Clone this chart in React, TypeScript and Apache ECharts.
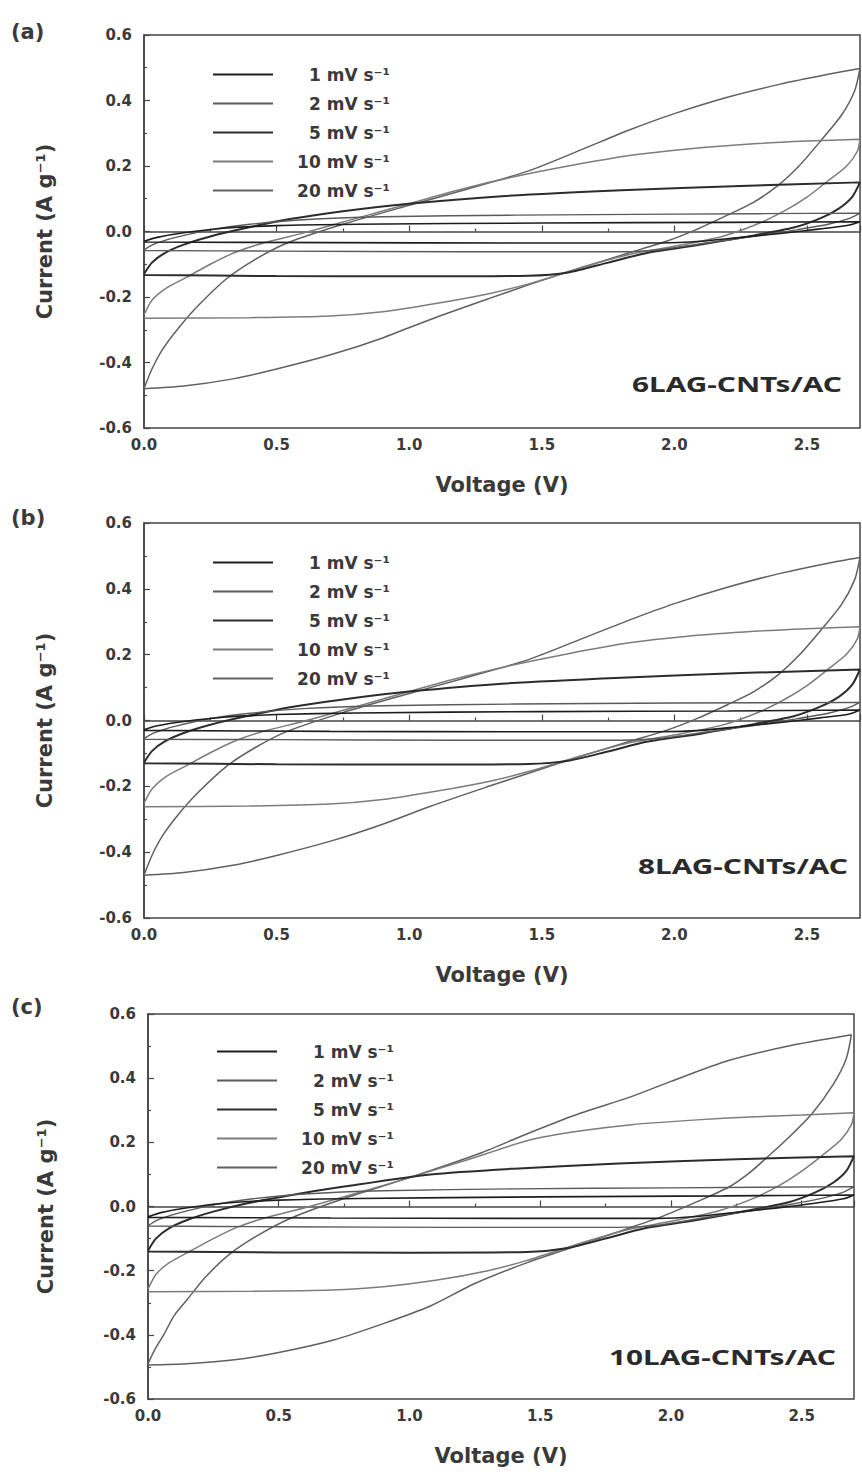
import React, { useEffect, useRef } from 'react';
import * as echarts from 'echarts';

const rateNames = ['1 mV s⁻¹', '2 mV s⁻¹', '5 mV s⁻¹', '10 mV s⁻¹', '20 mV s⁻¹'];
const rateColors = ['#1e1e1e', '#5a5a5a', '#2c2c2c', '#7c7c7c', '#606060'];
const rateWidths = [1.6, 1.4, 2, 1.5, 1.5];
const panelLabels = ['(a)', '(b)', '(c)'];
const sampleNames = ['6LAG-CNTs/AC', '8LAG-CNTs/AC', '10LAG-CNTs/AC'];
const yTicks = [-0.6, 0.6, 0.2];
const xTicks = [0, 2.7, 0.5];

// Panel (a): 6LAG-CNTs/AC  [voltage (V), current (A/g)]
const a1 = [[0,-0.03],[0.05,-0.018],[0.15,-0.004],[0.3,0.01],[0.5,0.018],[0.8,0.022],[1.5,0.026],[2.2,0.028],[2.7,0.03],[2.66,0.02],[2.55,0.008],[2.4,-0.006],[2.25,-0.018],[2.1,-0.03],[1.95,-0.035],[1.4,-0.035],[0.7,-0.034],[0,-0.032]];
const a2 = [[0,-0.056],[0.04,-0.038],[0.12,-0.018],[0.25,0.005],[0.4,0.022],[0.6,0.036],[0.9,0.045],[1.4,0.05],[2.0,0.053],[2.7,0.056],[2.66,0.04],[2.58,0.022],[2.46,0.005],[2.3,-0.015],[2.12,-0.035],[1.95,-0.055],[1.8,-0.062],[1.2,-0.062],[0.5,-0.06],[0,-0.058]];
const a5 = [[0,-0.13],[0.03,-0.095],[0.08,-0.065],[0.15,-0.04],[0.25,-0.015],[0.38,0.01],[0.55,0.038],[0.75,0.062],[1.0,0.085],[1.35,0.108],[1.8,0.126],[2.25,0.139],[2.7,0.15],[2.67,0.105],[2.62,0.07],[2.55,0.04],[2.45,0.012],[2.3,-0.012],[2.1,-0.04],[1.9,-0.065],[1.75,-0.095],[1.6,-0.125],[1.45,-0.135],[1.0,-0.137],[0.5,-0.136],[0,-0.133]];
const a10 = [[0,-0.255],[0.03,-0.21],[0.08,-0.175],[0.16,-0.14],[0.25,-0.1],[0.34,-0.065],[0.45,-0.035],[0.6,-0.005],[0.8,0.04],[1.0,0.085],[1.2,0.13],[1.4,0.168],[1.6,0.2],[1.83,0.232],[2.05,0.252],[2.3,0.268],[2.5,0.276],[2.7,0.282],[2.69,0.245],[2.65,0.2],[2.58,0.155],[2.5,0.105],[2.42,0.065],[2.32,0.025],[2.18,-0.015],[2.0,-0.045],[1.83,-0.07],[1.65,-0.11],[1.45,-0.16],[1.3,-0.19],[1.1,-0.22],[0.9,-0.245],[0.7,-0.258],[0.4,-0.263],[0,-0.265]];
const a20 = [[0,-0.48],[0.03,-0.42],[0.07,-0.36],[0.125,-0.3],[0.2,-0.23],[0.31,-0.145],[0.42,-0.085],[0.54,-0.035],[0.75,0.022],[1.0,0.08],[1.2,0.125],[1.45,0.185],[1.65,0.25],[1.83,0.31],[2.0,0.36],[2.2,0.41],[2.4,0.45],[2.58,0.48],[2.7,0.498],[2.68,0.43],[2.63,0.355],[2.55,0.275],[2.47,0.2],[2.39,0.14],[2.3,0.09],[2.2,0.05],[2.08,0.005],[1.97,-0.03],[1.83,-0.065],[1.65,-0.11],[1.45,-0.163],[1.3,-0.205],[1.075,-0.27],[0.9,-0.325],[0.71,-0.375],[0.5,-0.42],[0.335,-0.45],[0.15,-0.472],[0,-0.48]];

// Panel (b): 8LAG-CNTs/AC
const b1 = [[0,-0.028],[0.05,-0.016],[0.15,-0.003],[0.3,0.01],[0.5,0.018],[0.8,0.023],[1.5,0.027],[2.2,0.029],[2.7,0.032],[2.66,0.02],[2.55,0.008],[2.4,-0.006],[2.25,-0.018],[2.1,-0.03],[1.95,-0.034],[1.4,-0.034],[0.7,-0.033],[0,-0.03]];
const b2 = [[0,-0.055],[0.04,-0.037],[0.12,-0.017],[0.25,0.006],[0.4,0.022],[0.6,0.036],[0.9,0.045],[1.4,0.05],[2.0,0.053],[2.7,0.055],[2.66,0.04],[2.58,0.022],[2.46,0.005],[2.3,-0.015],[2.12,-0.035],[1.95,-0.054],[1.8,-0.06],[1.2,-0.06],[0.5,-0.058],[0,-0.057]];
const b5 = [[0,-0.128],[0.03,-0.093],[0.08,-0.063],[0.15,-0.038],[0.25,-0.013],[0.38,0.012],[0.55,0.04],[0.75,0.064],[1.0,0.088],[1.35,0.112],[1.8,0.13],[2.25,0.144],[2.7,0.155],[2.67,0.108],[2.62,0.072],[2.55,0.042],[2.45,0.013],[2.3,-0.011],[2.1,-0.04],[1.9,-0.064],[1.75,-0.094],[1.6,-0.122],[1.45,-0.132],[1.0,-0.134],[0.5,-0.133],[0,-0.13]];
const b10 = [[0,-0.252],[0.03,-0.208],[0.08,-0.172],[0.16,-0.137],[0.25,-0.098],[0.34,-0.063],[0.45,-0.033],[0.6,-0.003],[0.8,0.042],[1.0,0.088],[1.2,0.132],[1.4,0.17],[1.6,0.203],[1.83,0.236],[2.05,0.256],[2.3,0.271],[2.5,0.279],[2.7,0.285],[2.69,0.248],[2.65,0.202],[2.58,0.156],[2.5,0.106],[2.42,0.066],[2.32,0.026],[2.18,-0.014],[2.0,-0.044],[1.83,-0.068],[1.65,-0.107],[1.45,-0.155],[1.3,-0.185],[1.1,-0.215],[0.9,-0.24],[0.7,-0.254],[0.4,-0.26],[0,-0.262]];
const b20 = [[0,-0.47],[0.03,-0.41],[0.07,-0.35],[0.125,-0.29],[0.2,-0.222],[0.31,-0.14],[0.42,-0.082],[0.54,-0.033],[0.75,0.024],[1.0,0.082],[1.2,0.127],[1.45,0.185],[1.65,0.248],[1.83,0.305],[2.0,0.355],[2.2,0.405],[2.4,0.447],[2.58,0.478],[2.7,0.495],[2.68,0.428],[2.63,0.352],[2.55,0.272],[2.47,0.198],[2.39,0.138],[2.3,0.088],[2.2,0.048],[2.08,0.004],[1.97,-0.03],[1.83,-0.064],[1.65,-0.108],[1.45,-0.16],[1.3,-0.2],[1.075,-0.262],[0.9,-0.315],[0.71,-0.365],[0.5,-0.41],[0.335,-0.44],[0.15,-0.462],[0,-0.47]];

// Panel (c): 10LAG-CNTs/AC
const c1 = [[0,-0.032],[0.05,-0.019],[0.15,-0.004],[0.3,0.011],[0.5,0.02],[0.8,0.025],[1.5,0.03],[2.2,0.033],[2.7,0.036],[2.66,0.024],[2.55,0.01],[2.4,-0.005],[2.25,-0.018],[2.1,-0.031],[1.95,-0.037],[1.4,-0.037],[0.7,-0.036],[0,-0.034]];
const c2 = [[0,-0.06],[0.04,-0.041],[0.12,-0.02],[0.25,0.005],[0.4,0.024],[0.6,0.039],[0.9,0.049],[1.4,0.055],[2.0,0.058],[2.7,0.062],[2.66,0.045],[2.58,0.026],[2.46,0.007],[2.3,-0.014],[2.12,-0.036],[1.95,-0.058],[1.8,-0.065],[1.2,-0.065],[0.5,-0.063],[0,-0.061]];
const c5 = [[0,-0.138],[0.03,-0.1],[0.08,-0.068],[0.15,-0.042],[0.25,-0.016],[0.38,0.01],[0.55,0.036],[0.75,0.062],[1.08,0.1],[1.4,0.118],[1.8,0.134],[2.25,0.147],[2.7,0.157],[2.67,0.11],[2.62,0.074],[2.55,0.043],[2.45,0.013],[2.3,-0.012],[2.1,-0.042],[1.9,-0.068],[1.75,-0.1],[1.6,-0.13],[1.45,-0.142],[1.0,-0.144],[0.5,-0.143],[0,-0.14]];
const c10 = [[0,-0.258],[0.03,-0.212],[0.08,-0.176],[0.16,-0.14],[0.25,-0.1],[0.34,-0.065],[0.45,-0.035],[0.6,-0.004],[0.8,0.042],[1.0,0.09],[1.2,0.14],[1.46,0.207],[1.65,0.235],[1.85,0.255],[2.1,0.27],[2.3,0.279],[2.5,0.285],[2.7,0.292],[2.69,0.255],[2.65,0.208],[2.58,0.16],[2.5,0.11],[2.42,0.068],[2.32,0.027],[2.18,-0.014],[2.0,-0.046],[1.83,-0.073],[1.65,-0.115],[1.45,-0.168],[1.3,-0.2],[1.1,-0.23],[0.9,-0.25],[0.7,-0.26],[0.4,-0.264],[0,-0.266]];
const c20 = [[0,-0.49],[0.03,-0.44],[0.06,-0.4],[0.1,-0.34],[0.15,-0.29],[0.22,-0.22],[0.31,-0.15],[0.42,-0.09],[0.55,-0.035],[0.75,0.025],[1.0,0.09],[1.27,0.166],[1.46,0.23],[1.65,0.29],[1.84,0.34],[2.0,0.39],[2.22,0.455],[2.45,0.5],[2.69,0.535],[2.67,0.46],[2.62,0.38],[2.54,0.29],[2.45,0.215],[2.37,0.155],[2.3,0.105],[2.22,0.06],[2.1,0.015],[1.97,-0.03],[1.83,-0.07],[1.65,-0.12],[1.45,-0.175],[1.25,-0.24],[1.08,-0.31],[0.9,-0.365],[0.71,-0.416],[0.5,-0.455],[0.33,-0.478],[0.15,-0.49],[0,-0.494]];

const panelData = [
  [a1, a2, a5, a10, a20],
  [b1, b2, b5, b10, b20],
  [c1, c2, c5, c10, c20],
];

// layout (pixels)
const grids = [
  { left: 144, top: 35, width: 716, height: 393 },
  { left: 144, top: 523, width: 716, height: 395 },
  { left: 148, top: 1014, width: 706, height: 385 },
];
const legendPos = [
  { left: 208, top: 61 },
  { left: 208, top: 549 },
  { left: 212, top: 1038 },
];
const labelPos = [
  { x: 11, y: 32 },
  { x: 11, y: 518 },
  { x: 11, y: 1007 },
];
const samplePos = [
  { x: 842, y: 384 },
  { x: 848, y: 866 },
  { x: 836, y: 1357 },
];

const FONT = '"DejaVu Sans", "Liberation Sans", sans-serif';
const AXIS_COLOR = '#444';
const TEXT_COLOR = '#3a3a3a';

export default function App() {
  const ref = useRef<HTMLDivElement>(null);

  useEffect(() => {
    if (!ref.current) return;
    const chart = echarts.init(ref.current, undefined, { renderer: 'svg' });

    const xAxis = grids.map((_, i) => ({
      type: 'value',
      gridIndex: i,
      min: xTicks[0],
      max: xTicks[1],
      interval: xTicks[2],
      name: 'Voltage (V)',
      nameLocation: 'middle',
      nameGap: 46,
      nameTextStyle: { fontFamily: FONT, fontWeight: 'bold', fontSize: 21, color: TEXT_COLOR },
      axisLine: { show: true, lineStyle: { color: AXIS_COLOR, width: 1.5 } },
      axisTick: { show: true, inside: true, length: 6, lineStyle: { color: AXIS_COLOR, width: 1.2 } },
      minorTick: { show: true, splitNumber: 2, length: 3, lineStyle: { color: AXIS_COLOR, width: 1.2 } },
      splitLine: { show: false },
      axisLabel: {
        showMaxLabel: false,
        margin: 9,
        fontFamily: FONT,
        fontWeight: 'bold',
        fontSize: 15,
        color: TEXT_COLOR,
        formatter: (v: number) => v.toFixed(1),
      },
    }));

    const yAxis = grids.map((_, i) => ({
      type: 'value',
      gridIndex: i,
      min: yTicks[0],
      max: yTicks[1],
      interval: yTicks[2],
      name: 'Current (A g⁻¹)',
      nameLocation: 'middle',
      nameGap: i === 2 ? 92 : 89,
      nameTextStyle: { fontFamily: FONT, fontWeight: 'bold', fontSize: 21, color: TEXT_COLOR },
      axisLine: { show: true, lineStyle: { color: AXIS_COLOR, width: 1.5 } },
      axisTick: { show: true, inside: true, length: 6, lineStyle: { color: AXIS_COLOR, width: 1.2 } },
      minorTick: { show: true, splitNumber: 2, length: 3, lineStyle: { color: AXIS_COLOR, width: 1.2 } },
      splitLine: { show: false },
      axisLabel: {
        margin: 12,
        fontFamily: FONT,
        fontWeight: 'bold',
        fontSize: 15,
        color: TEXT_COLOR,
        formatter: (v: number) => (Math.abs(v) < 1e-9 ? '0.0' : v.toFixed(1)),
      },
    }));

    const series: any[] = [];
    panelData.forEach((loops, p) => {
      loops.forEach((data, k) => {
        series.push({
          type: 'line',
          name: rateNames[k],
          xAxisIndex: p,
          yAxisIndex: p,
          data,
          smooth: 0.25,
          symbol: 'none',
          showSymbol: false,
          lineStyle: { color: rateColors[k], width: rateWidths[k] },
          itemStyle: { color: rateColors[k] },
          z: 5 - k,
        });
      });
    });

    const legend = legendPos.map((pos) => ({
      orient: 'vertical',
      left: pos.left,
      top: pos.top,
      icon: 'rect',
      itemWidth: 60,
      itemHeight: 2,
      itemGap: 12,
      selectedMode: false,
      data: rateNames,
      formatter: (n: string) => `{r|${n}}`,
      textStyle: {
        width: 112,
        rich: {
          r: { align: 'right', fontFamily: FONT, fontWeight: 'bold', fontSize: 17, color: TEXT_COLOR, lineHeight: 18 },
        },
      },
    }));

    const graphic: any[] = [];
    panelLabels.forEach((t, i) => {
      graphic.push({
        type: 'text',
        x: labelPos[i].x,
        y: labelPos[i].y,
        style: { text: t, fontFamily: FONT, fontWeight: 'bold', fontSize: 21, fill: TEXT_COLOR, textVerticalAlign: 'middle' },
      });
      graphic.push({
        type: 'text',
        x: samplePos[i].x,
        y: samplePos[i].y,
        scaleX: 1.42,
        style: {
          text: sampleNames[i],
          fontFamily: '"Noto Sans", "Open Sans", sans-serif',
          fontWeight: 'bold',
          fontSize: 21,
          fill: '#2a2a2a',
          textAlign: 'right',
          textVerticalAlign: 'middle',
        },
      });
    });

    chart.setOption({
      animation: false,
      backgroundColor: '#ffffff',
      grid: grids.map((g) => ({ ...g, show: true, borderColor: AXIS_COLOR, borderWidth: 1.5, backgroundColor: 'transparent' })),
      xAxis,
      yAxis,
      legend,
      series,
      graphic,
    });

    return () => chart.dispose();
  }, []);

  return (
    <div
      ref={ref}
      style={{ position: 'absolute', left: 0, top: 0, width: 862, height: 1474, background: '#fff' }}
    />
  );
}
